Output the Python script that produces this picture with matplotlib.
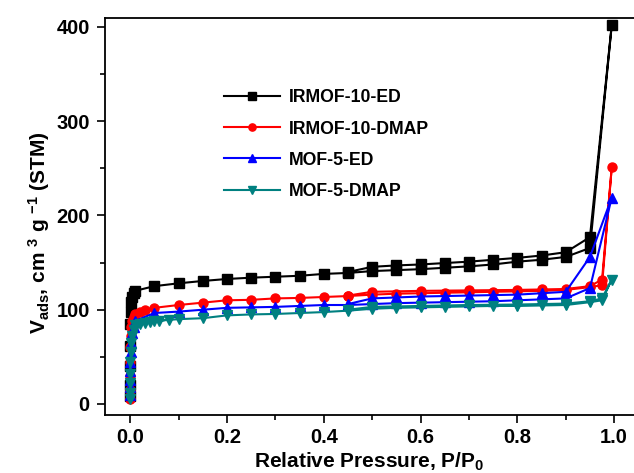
import matplotlib
matplotlib.use("Agg")
import matplotlib.pyplot as plt
from matplotlib.ticker import MultipleLocator

plt.rcParams['font.family'] = ['Liberation Sans', 'DejaVu Sans']
plt.rcParams['font.weight'] = 'bold'
plt.rcParams['mathtext.fontset'] = 'custom'
plt.rcParams['mathtext.rm'] = 'Liberation Sans:bold'
plt.rcParams['mathtext.bf'] = 'Liberation Sans:bold'
plt.rcParams['mathtext.it'] = 'Liberation Sans:bold'
plt.rcParams['mathtext.default'] = 'bf'

# relative pressure points for the low-pressure column and the curve
p_low = [0.00002, 0.00005, 0.0001, 0.0002, 0.0005, 0.001, 0.002, 0.004, 0.007, 0.01]
p_mid = [0.05, 0.1, 0.15, 0.2, 0.25, 0.3, 0.35, 0.4, 0.45, 0.5, 0.55, 0.6,
         0.65, 0.7, 0.75, 0.8, 0.85, 0.9, 0.95]

# IRMOF-10-ED
ed10_p = p_low + p_mid + [0.995] + [0.95, 0.9, 0.85, 0.8, 0.75, 0.7, 0.65, 0.6, 0.55, 0.5, 0.45]
ed10_v = [8, 20, 40, 62, 85, 98, 108, 114, 118, 120,
          125, 128, 130.5, 132.6, 134, 135, 136, 138, 139, 141, 142, 143, 144.5,
          146, 148, 151, 153, 156, 165.5, 402,
          177, 161, 157.5, 155, 153, 151, 149.5, 148, 147, 145.5, 140]

# IRMOF-10-DMAP
dm10_p = p_low + [0.02, 0.03] + p_mid + [0.975, 0.995] + [0.975, 0.95, 0.9, 0.85, 0.8, 0.7, 0.6, 0.5, 0.45]
dm10_v = [5, 15, 30, 45, 60, 72, 82, 88, 92, 95, 98, 100,
          102, 105, 107.5, 110, 110.5, 112, 112.5, 113.5, 114.5, 116, 117, 117.5,
          118, 118.5, 119, 119.5, 120, 121, 124, 126, 251,
          132, 125, 122, 121.5, 121, 120.5, 120, 119, 115]

# MOF-5-ED
ed5_p = p_low + p_mid + [0.995] + [0.95, 0.9, 0.85, 0.8, 0.75, 0.7, 0.65, 0.6, 0.55, 0.5, 0.45]
ed5_v = [10, 18, 25, 35, 45, 55, 65, 75, 82, 88,
         96.5, 98, 100, 102, 102.5, 103, 104, 105, 105, 106, 107, 107.5, 108,
         108.5, 109, 110, 111, 112, 123, 219,
         156, 119, 117.5, 116, 115.5, 115, 114.5, 114, 113, 112, 106]

# MOF-5-DMAP
dm5_p = p_low + [0.02, 0.03, 0.04, 0.06, 0.08] + p_mid + [0.975, 0.995] + [0.975, 0.95, 0.9, 0.8, 0.7, 0.6, 0.5, 0.45]
dm5_v = [5, 12, 22, 32, 45, 55, 65, 72, 78, 84, 85, 86, 87, 88.5, 89.5,
         88, 90, 91, 94, 95, 95.5, 96.5, 97.5, 99, 101, 102, 102.5, 103,
         103.5, 104, 104, 104.5, 105, 108, 110, 132,
         112, 109, 106.5, 105.5, 105, 104, 103, 100]

series = [
    ("IRMOF-10-ED", ed10_p, ed10_v, "black", "s"),
    ("IRMOF-10-DMAP", dm10_p, dm10_v, "red", "o"),
    ("MOF-5-ED", ed5_p, ed5_v, "blue", "^"),
    ("MOF-5-DMAP", dm5_p, dm5_v, "#008080", "v"),
]

fig = plt.figure(figsize=(6.34, 4.73), dpi=100)
ax = fig.add_axes([0.1656, 0.1226, 0.8344, 0.8394])

for name, p, v, c, m in series:
    ax.plot(p, v, color=c, marker=m, markersize=6.5, linewidth=1.5, label=name)

ax.set_xlim(-0.052, 1.041)
ax.set_ylim(-11.7, 409.5)
ax.xaxis.set_minor_locator(MultipleLocator(0.1))
ax.yaxis.set_major_locator(MultipleLocator(100))
ax.yaxis.set_minor_locator(MultipleLocator(50))
ax.set_xticks([0, 0.2, 0.4, 0.6, 0.8, 1.0])
ax.set_xticklabels(["0.0", "0.2", "0.4", "0.6", "0.8", "1.0"])
ax.tick_params(which='major', direction='out', length=6, width=1.2, labelsize=14.5, pad=3)
ax.tick_params(axis='y', which='major', pad=5)
ax.tick_params(which='minor', direction='out', length=3.5, width=1.2)
for s in ax.spines.values():
    s.set_linewidth(1.3)
ax.spines['right'].set_visible(False)

ax.set_xlabel(r"Relative Pressure, P/P$_0$", fontsize=15, fontweight='bold', labelpad=3)
ax.set_ylabel(r"V$_{ads}$, cm $^{3}$ g $^{-1}$ (STM)", fontsize=15, fontweight='bold')
ax.yaxis.set_label_coords(-0.1, 0.46)

ax.legend(loc='upper left', bbox_to_anchor=(0.195, 0.86), frameon=False, fontsize=12.7,
          handlelength=3.2, labelspacing=0.8, handletextpad=0.5, markerscale=0.8)

fig.savefig("out.png", dpi=100)
